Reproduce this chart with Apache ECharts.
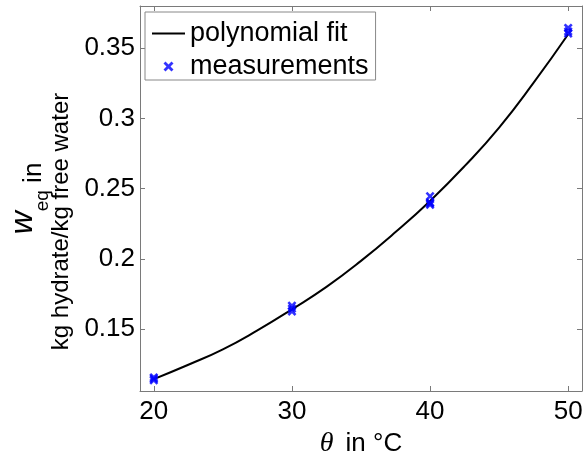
<!DOCTYPE html>
<html>
<head>
<meta charset="utf-8">
<script src="https://cdn.jsdelivr.net/npm/echarts@6/dist/echarts.min.js"></script>
<style>html,body{margin:0;padding:0;background:#fff}#c{width:588px;height:452px}</style>
</head>
<body>
<div id="c"></div>
<script>
// Polynomial fit curve
const fitX = [20, 22.5, 25, 27.5, 30, 32.5, 35, 37.5, 40, 42.5, 45, 47.5, 50];
const fitY = [0.1143, 0.1245, 0.1355, 0.1490, 0.1640, 0.1800, 0.1985, 0.2190, 0.2412, 0.2660, 0.2935, 0.3255, 0.3600];
// Measurements (several repeated points per temperature)
const measX = [20, 20, 20, 30, 30, 30, 40, 40, 40, 40, 50, 50, 50];
const measY = [0.1135, 0.1145, 0.1155, 0.1625, 0.1645, 0.1665, 0.2445, 0.2400, 0.2385, 0.2395, 0.3605, 0.3620, 0.3645];
const xTicks = [20, 30, 40, 50];
const yTicks = [0.15, 0.2, 0.25, 0.3, 0.35];
const legendNames = ['polynomial fit', 'measurements'];

const FONT = 'Liberation Sans, Arial, sans-serif';
const FS = 26;
const AX = '#7a7a7a';
const XPATH = 'path://M0,2 L2,0 L5,3 L8,0 L10,2 L7,5 L10,8 L8,10 L5,7 L2,10 L0,8 L3,5 Z';

const chart = echarts.init(document.getElementById('c'), null, {renderer: 'canvas'});
const tickStyle = {show: true, inside: true, length: 5, lineStyle: {color: AX, width: 1}};
const option = {
  backgroundColor: '#fff',
  animation: false,
  grid: {left: 140, right: 6, top: 6, bottom: 61, outerBoundsMode: 'none'},
  legend: {
    orient: 'vertical', left: 145, top: 12,
    backgroundColor: '#fff', borderColor: '#888', borderWidth: 1,
    padding: [8, 7, 0, 7], itemGap: 6, itemWidth: 33, itemHeight: 10,
    textStyle: {fontFamily: FONT, fontSize: 27, color: '#000', lineHeight: 26},
    data: [
      {name: legendNames[0], icon: 'path://M0,0 L33,0 L33,2 L0,2 Z', itemStyle: {color: '#000'}},
      {name: legendNames[1], icon: XPATH, itemStyle: {color: '#0000ff'}}
    ],
    selectedMode: false
  },
  xAxis: [{
    type: 'value', min: 19, max: 51,
    axisLine: {show: true, onZero: false, lineStyle: {color: AX}},
    axisTick: Object.assign({customValues: xTicks}, tickStyle),
    axisLabel: {customValues: xTicks, fontFamily: FONT, fontSize: FS, color: '#000', margin: 8},
    splitLine: {show: false},
    name: '{t|θ}{n|in °C}', nameLocation: 'middle', nameGap: 30,
    nameTextStyle: {rich: {
      t: {fontFamily: 'Liberation Serif, Times New Roman, serif', fontStyle: 'italic', fontSize: 28, color: '#000', padding: [0, 12, 0, 0]},
      n: {fontFamily: FONT, fontSize: FS, color: '#000'}
    }}
  }, {
    type: 'value', min: 19, max: 51, position: 'top',
    axisLine: {show: true, onZero: false, lineStyle: {color: AX}},
    axisTick: Object.assign({customValues: xTicks}, tickStyle),
    axisLabel: {show: false}, splitLine: {show: false}
  }],
  yAxis: [{
    type: 'value', min: 0.1058, max: 0.3801,
    axisLine: {show: true, onZero: false, lineStyle: {color: AX}},
    axisTick: Object.assign({customValues: yTicks}, tickStyle),
    axisLabel: {customValues: yTicks, fontFamily: FONT, fontSize: FS, color: '#000', margin: 5},
    splitLine: {show: false},
    name: '{w|w}{s|eq}{i| in}\n{b|kg hydrate/kg free water}',
    nameLocation: 'middle', nameGap: 63, nameRotate: 90,
    nameTextStyle: {align: 'center', rich: {
      w: {fontFamily: FONT, fontStyle: 'italic', fontSize: 32, color: '#000', verticalAlign: 'bottom', lineHeight: 28, padding: [0,0,8,0]},
      s: {fontFamily: FONT, fontSize: 19, color: '#000', verticalAlign: 'top', lineHeight: 28, padding: [14,0,0,0]},
      i: {fontFamily: FONT, fontSize: FS, color: '#000', lineHeight: 28},
      b: {fontFamily: FONT, fontSize: FS - 2, color: '#000', lineHeight: 28, padding: [0, 46, 0, 0]}
    }}
  }, {
    type: 'value', min: 0.1058, max: 0.3801, position: 'right',
    axisLine: {show: true, onZero: false, lineStyle: {color: AX}},
    axisTick: Object.assign({customValues: yTicks}, tickStyle),
    axisLabel: {show: false}, splitLine: {show: false}
  }],
  series: [{
    name: legendNames[0], type: 'line', smooth: true, symbol: 'none',
    lineStyle: {color: '#000', width: 2},
    data: fitX.map((x, i) => [x, fitY[i]]),
    z: 2
  }, {
    name: legendNames[1], type: 'scatter', symbol: XPATH, symbolSize: 9,
    itemStyle: {color: '#0000ff'},
    data: measX.map((x, i) => [x, measY[i]]),
    z: 3
  }]
};
chart.setOption(option);
</script>
</body>
</html>
